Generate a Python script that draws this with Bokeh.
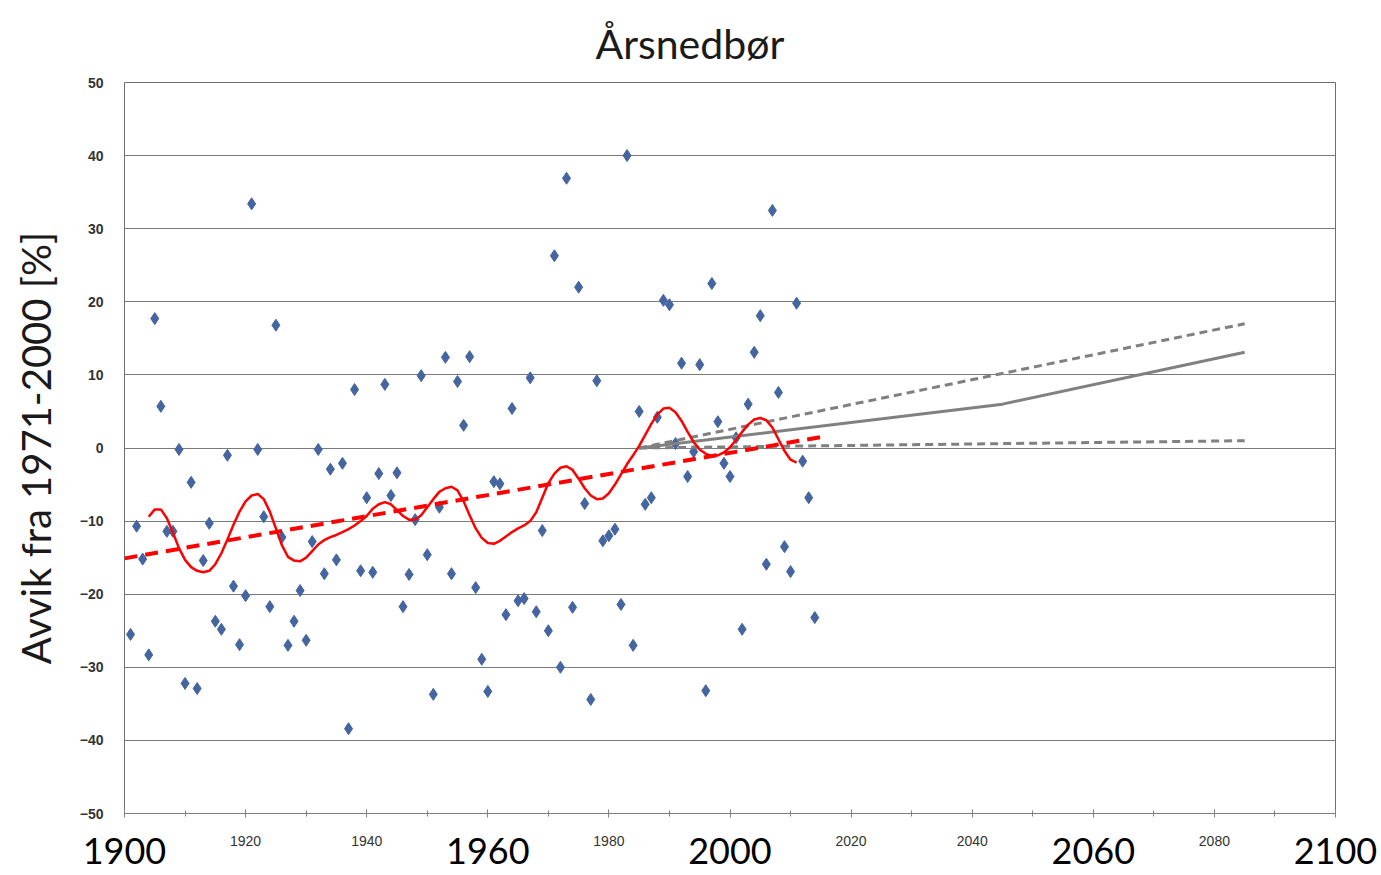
from bokeh.plotting import figure
from bokeh.models import Range1d, LinearAxis, FixedTicker, ColumnDataSource
from bokeh.embed import file_html
from bokeh.resources import INLINE

# ---------------- data ----------------
years = list(range(1901, 2015))
anomaly = [
    -25.5, -10.7, -15.2, -28.3, 17.7, 5.7, -11.4, -11.4, -0.2, -32.2,
    -4.7, -32.9, -15.4, -10.3, -23.7, -24.8, -1.0, -18.9, -26.9, -20.2,
    33.4, -0.2, -9.4, -21.7, 16.8, -12.2, -27.0, -23.7, -19.5, -26.3,
    -12.8, -0.2, -17.2, -2.9, -15.3, -2.1, -38.4, 8.0, -16.8, -6.8,
    -17.0, -3.5, 8.7, -6.5, -3.4, -21.7, -17.3, -9.8, 9.9, -14.6,
    -33.7, -8.1, 12.4, -17.2, 9.1, 3.1, 12.5, -19.1, -28.9, -33.3,
    -4.6, -4.9, -22.8, 5.4, -20.9, -20.6, 9.6, -22.4, -11.3, -25.0,
    26.3, -30.0, 36.9, -21.8, 22.0, -7.6, -34.4, 9.2, -12.7, -12.0,
    -11.1, -21.4, 40.0, -27.0, 5.0, -7.7, -6.8, 4.2, 20.2, 19.6,
    0.6, 11.6, -3.9, -0.5, 11.4, -33.2, 22.5, 3.6, -2.1, -3.9,
    1.4, -24.8, 6.0, 13.1, 18.1, -15.9, 32.5, 7.6, -13.5, -16.9,
    19.8, -1.8, -6.8, -23.2,
]

smooth_years = list(range(1904, 2012))
smooth_values = [
    -9.4, -8.4, -8.4, -9.6, -11.6, -13.7, -15.3, -16.3, -16.8, -17.0,
    -16.8, -15.9, -14.4, -12.5, -10.5, -8.7, -7.3, -6.5, -6.3, -7.0,
    -8.7, -11.0, -13.3, -14.9, -15.4, -15.5, -15.0, -14.1, -13.2, -12.6,
    -12.2, -11.9, -11.5, -11.1, -10.6, -10.0, -9.3, -8.3, -7.7, -7.4,
    -7.7, -8.5, -9.3, -9.8, -9.8, -9.2, -8.1, -7.0, -6.0, -5.5,
    -5.3, -5.8, -7.3, -9.2, -11.0, -12.3, -13.0, -13.1, -12.7, -12.1,
    -11.5, -11.0, -10.6, -10.0, -8.8, -6.8, -4.8, -3.5, -2.7, -2.5,
    -3.0, -4.2, -5.5, -6.5, -7.0, -6.9, -6.2, -5.0, -3.6, -2.2,
    -1.0, 0.3, 1.8, 3.3, 4.6, 5.4, 5.5, 4.9, 3.7, 2.2,
    0.8, -0.2, -0.8, -1.1, -1.0, -0.6, 0.1, 1.1, 2.2, 3.2,
    3.9, 4.1, 3.8, 2.8, 1.2, -0.4, -1.6, -2.0,
]

trend_years = [1900, 2015]
trend_values = [-15.1, 1.5]

proj_mid_years = [1985, 2045, 2085]
proj_mid_values = [0.0, 6.0, 13.1]
proj_high_years = [1985, 2085]
proj_high_values = [0.0, 17.0]
proj_low_years = [1985, 2085]
proj_low_values = [0.0, 1.0]

major_years = [1900, 1920, 1940, 1960, 1980, 2000, 2020, 2040, 2060, 2080, 2100]
minor_years = list(range(1900, 2101, 10))
big_label_years = [1900, 1960, 2000, 2060, 2100]
small_label_years = [1920, 1940, 1980, 2020, 2040, 2080]
y_ticks = [-50, -40, -30, -20, -10, 0, 10, 20, 30, 40, 50]

# ---------------- figure ----------------
p = figure(
    frame_width=1211, frame_height=731,
    x_range=Range1d(1900, 2100), y_range=Range1d(-50, 50),
    output_backend="svg", toolbar_location=None,
    min_border_left=124, min_border_right=44,
    min_border_top=82, min_border_bottom=60,
    title="Årsnedbør",
    background_fill_color="white", border_fill_color="white",
)

p.title.align = "left"
p.title.offset = 471
p.title.standoff = 30
p.title.text_font = "Lato"
p.title.text_font_size = "41px"
p.title.text_font_style = "normal"
p.title.text_color = "#1a1a1a"

p.outline_line_color = "#6e6e6e"
p.outline_line_width = 1

p.xgrid.visible = False
p.ygrid.ticker = FixedTicker(ticks=y_ticks)
p.ygrid.grid_line_color = "#7a7a7a"
p.ygrid.grid_line_width = 1

# x axis with ticks and big labels
xa = p.xaxis[0]
xa.ticker = FixedTicker(ticks=major_years, minor_ticks=minor_years)
xa.major_label_overrides = {yr: "" for yr in small_label_years}
xa.axis_line_color = "#808080"
xa.major_tick_line_color = "#808080"
xa.minor_tick_line_color = "#808080"
xa.major_tick_in = 4
xa.major_tick_out = 4
xa.minor_tick_in = 3
xa.minor_tick_out = 3
xa.major_label_standoff = 20
xa.major_label_text_font = "Lato"
xa.major_label_text_font_size = "36px"
xa.major_label_text_color = "#000000"

# second axis carrying the small labels
xb = LinearAxis(
    ticker=FixedTicker(ticks=small_label_years),
    axis_line_color=None,
    major_tick_in=0, major_tick_out=0,
    minor_tick_in=0, minor_tick_out=0,
    major_label_standoff=-31,
    major_label_text_font="Liberation Sans",
    major_label_text_font_size="14px",
    major_label_text_color="#333333",
)
p.add_layout(xb, "below")

ya = p.yaxis[0]
ya.ticker = FixedTicker(ticks=y_ticks)
ya.axis_line_color = None
ya.major_tick_in = 0
ya.major_tick_out = 0
ya.minor_tick_in = 0
ya.minor_tick_out = 0
ya.major_label_standoff = 21
ya.major_label_text_font = "Liberation Sans"
ya.major_label_text_font_size = "14px"
ya.major_label_text_font_style = "bold"
ya.major_label_text_color = "#333333"
ya.axis_label = "Avvik fra 1971-2000 [%]"
ya.axis_label_text_font = "Lato"
ya.axis_label_text_font_size = "40px"
ya.axis_label_text_font_style = "normal"
ya.axis_label_text_color = "#1a1a1a"
ya.axis_label_standoff = 17

# ---------------- glyphs ----------------
obs = ColumnDataSource(dict(year=years, value=anomaly))
p.scatter("year", "value", source=obs, marker="diamond", size=12,
          fill_color="#44659f", line_color="#44659f")

p.line(proj_high_years, proj_high_values, line_color="#808080", line_width=3,
       line_dash="8 5")
p.line(proj_low_years, proj_low_values, line_color="#808080", line_width=3,
       line_dash="8 5")
p.line(proj_mid_years, proj_mid_values, line_color="#808080", line_width=3)

p.line(trend_years, trend_values, line_color="#ff0000", line_width=4,
       line_dash="13 8")
p.line(smooth_years, smooth_values, line_color="#ff0000", line_width=2.5)

open("out.html", "w").write(file_html(p, INLINE))
